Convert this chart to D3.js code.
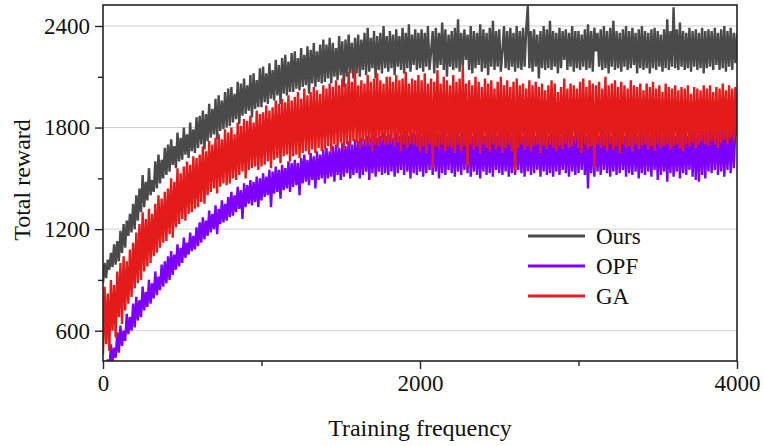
<!DOCTYPE html>
<html><head><meta charset="utf-8">
<script src="https://cdn.jsdelivr.net/npm/d3@7"></script>
<style>body{margin:0;background:#fff}svg{display:block}text{font-family:"Liberation Serif","Times New Roman",serif;fill:#111}</style>
</head><body><svg id="c" width="764" height="446"></svg>
<script>
const xStep = 10;
const seriesNames = ["Ours", "OPF", "GA"];
const seriesColors = ["#4a4a4a", "#7d00ff", "#e31b1b"];
const xTicksMajor = [0, 2000, 4000];
const xTicksMinor = [1000, 3000];
const yTicksMajor = [600, 1200, 1800, 2400];
const yTicksMinor = [900, 1500, 2100];
const xLabel = "Training frequency";
const yLabel = "Total reward";

const ours = [
880,1000,910,1020,960,1060,975,1110,990,1130,1010,1190,1060,1230,1090,1250,1160,1290,1180,1350,
1200,1400,1250,1440,1300,1520,1330,1480,1370,1560,1400,1490,1420,1600,1440,1640,1470,1610,1500,1680,
1520,1700,1540,1730,1580,1690,1560,1770,1600,1740,1610,1800,1640,1760,1620,1830,1660,1790,1650,1860,
1680,1870,1700,1900,1670,1880,1720,1940,1740,1910,1760,1970,1730,1990,1780,1960,1790,2010,1800,2030,
1810,2040,1830,2000,1850,2070,1820,2060,1870,2090,1880,2050,1900,2110,1860,2120,1910,2080,1920,2150,
1920,2160,1950,2120,1940,2180,1970,2140,1960,2200,1990,2170,1940,2210,2000,2230,1990,2190,2010,2240,
2010,2250,2030,2210,2020,2270,2040,2230,2050,2280,2000,2260,2060,2300,2040,2250,2070,2290,2060,2320,
2070,2290,2090,2330,2060,2300,2100,2270,2080,2340,2110,2310,2040,2320,2100,2350,2120,2300,2090,2330,
2120,2350,2100,2320,2140,2360,2110,2390,2130,2330,2150,2370,2090,2340,2140,2360,2120,2400,2150,2340,
2130,2370,2150,2350,2110,2380,2160,2340,2140,2390,2120,2360,2150,2410,2130,2350,2170,2380,2140,2360,
2150,2380,2130,2360,2160,2400,2140,2250,2370,2120,2390,2150,2360,2170,2420,2140,2380,2100,2350,2160,
2370,2140,2390,2150,2440,2130,2360,2160,2380,2200,2350,2140,2400,2120,2370,2150,2360,2170,2410,2130,
2380,2150,2360,2110,2390,2160,2430,2140,2370,2160,2380,2130,2250,2400,2150,2370,2140,2390,2160,2360,
2130,2400,2150,2370,2140,2390,2160,2380,2520,2150,2370,2130,2380,2160,2350,2090,2370,2150,2400,2140,
2380,2150,2430,2140,2370,2160,2360,2120,2390,2150,2370,2200,2380,2140,2360,2160,2400,2130,2370,2150,
2370,2140,2350,2160,2380,2140,2410,2150,2370,2130,2390,2250,2360,2160,2380,2140,2400,2150,2370,2120,
2390,2160,2430,2140,2370,2150,2360,2130,2380,2160,2400,2140,2370,2150,2390,2170,2360,2120,2380,2150,
2400,2140,2370,2150,2360,2120,2380,2150,2390,2140,2370,2160,2350,2130,2380,2150,2440,2140,2370,2160,
2510,2150,2380,2140,2420,2160,2370,2140,2360,2150,2390,2130,2370,2160,2380,2140,2360,2150,2390,2120,
2370,2150,2380,2160,2370,2140,2390,2170,2360,2140,2380,2150,2400,2130,2370,2160,2390,2140,2360,2180,
2360];

const opf = [
300,380,320,430,350,520,410,500,440,590,470,630,510,600,540,700,580,680,600,760,
620,800,660,780,680,860,720,830,740,900,760,880,790,950,810,920,840,990,860,1010,
880,1040,900,1070,930,1050,960,1110,980,1090,1000,1150,1030,1120,1050,1180,1070,1160,1080,1210,
1100,1240,1120,1270,1140,1250,1160,1310,1180,1290,1200,1340,1170,1320,1230,1370,1240,1350,1250,1390,
1270,1420,1280,1400,1300,1450,1320,1430,1260,1470,1330,1460,1350,1490,1340,1480,1360,1510,1330,1500,
1370,1530,1390,1510,1400,1550,1330,1540,1410,1570,1420,1550,1380,1580,1430,1560,1440,1600,1420,1590,
1450,1610,1460,1590,1400,1620,1470,1640,1480,1610,1460,1650,1490,1630,1440,1660,1490,1640,1500,1670,
1470,1680,1500,1660,1510,1690,1480,1700,1520,1680,1490,1710,1510,1690,1530,1720,1500,1700,1520,1730,
1530,1720,1500,1740,1520,1730,1540,1750,1490,1740,1530,1760,1510,1740,1540,1750,1520,1770,1530,1750,
1520,1760,1540,1740,1510,1770,1530,1750,1550,1760,1520,1780,1540,1750,1500,1770,1530,1760,1520,1780,
1540,1750,1510,1770,1530,1760,1550,1780,1520,1750,1540,1770,1500,1760,1530,1780,1520,1750,1550,1770,
1530,1760,1510,1780,1540,1750,1520,1770,1550,1760,1530,1780,1510,1750,1540,1770,1520,1760,1500,1780,
1540,1750,1520,1770,1530,1760,1510,1780,1550,1750,1530,1770,1520,1760,1540,1780,1510,1750,1530,1770,
1520,1760,1550,1780,1530,1750,1510,1770,1540,1760,1520,1780,1530,1750,1550,1770,1510,1760,1540,1780,
1520,1750,1530,1770,1510,1760,1540,1780,1520,1750,1550,1770,1530,1760,1510,1780,1540,1750,1520,1770,
1530,1760,1550,1780,1520,1750,1440,1770,1530,1760,1510,1780,1540,1750,1520,1770,1550,1760,1530,1780,
1510,1750,1540,1770,1520,1760,1530,1780,1550,1750,1510,1770,1530,1760,1520,1780,1540,1750,1500,1770,
1530,1760,1520,1780,1540,1750,1510,1770,1550,1760,1490,1780,1520,1750,1540,1770,1480,1760,1530,1780,
1510,1750,1540,1770,1500,1760,1530,1780,1520,1750,1550,1770,1510,1790,1490,1760,1480,1780,1520,1790,
1500,1770,1540,1800,1530,1780,1550,1810,1520,1790,1540,1800,1510,1780,1550,1820,1530,1800,1560,1810,
1800];

const ga = [
460,860,520,820,480,900,600,870,560,950,680,1000,640,1040,720,1010,760,1080,800,1120,
850,1180,880,1230,900,1300,950,1260,980,1320,1000,1290,1040,1350,1060,1400,1090,1380,1120,1420,
1130,1440,1170,1500,1150,1480,1210,1560,1230,1530,1260,1570,1250,1600,1290,1580,1300,1630,1320,1620,
1330,1640,1360,1690,1350,1660,1400,1720,1420,1700,1440,1740,1410,1760,1450,1730,1470,1790,1460,1770,
1470,1800,1500,1760,1490,1830,1520,1810,1540,1850,1500,1840,1550,1870,1560,1830,1570,1900,1550,1880,
1570,1890,1580,1930,1600,1900,1560,1920,1610,1960,1620,1940,1590,1970,1630,1950,1640,1990,1600,1960,
1630,1980,1640,2010,1620,1970,1650,2030,1660,1990,1640,2010,1670,2040,1650,2020,1680,2000,1660,2050,
1670,2030,1690,2060,1660,2040,1700,2080,1680,2050,1710,2090,1670,2060,1700,2130,1690,2070,1720,2140,
1710,2050,1680,2080,1720,2060,1690,2110,1710,2070,1660,2090,1700,2120,1690,2080,1720,2060,1700,2100,
1700,2100,1720,2070,1690,2110,1710,2080,1660,2090,1700,2130,1680,2060,1710,2090,1700,2080,1690,2110,
1660,2080,1690,2120,1650,2060,1700,2090,1560,2070,1690,2140,1670,2060,1700,2100,1660,2080,1690,2050,
1680,2110,1650,2070,1700,2090,1660,2160,1690,2060,1570,2080,1700,2050,1670,2100,1690,2070,1650,2040,
1700,2090,1680,2060,1660,2080,1700,2030,1670,2070,1690,2100,1650,2050,1680,2080,1700,2040,1660,2070,
1540,2090,1680,2050,1700,2060,1670,2030,1690,2080,1660,2050,1690,2070,1700,2040,1650,2060,1690,2020,
1670,2050,1700,2080,1680,2060,1660,2010,1690,2040,1670,2090,1700,2030,1680,2060,1690,2050,1720,2030,
1680,2070,1650,2090,1700,2040,1670,2080,1690,2060,1560,2050,1700,2070,1680,2030,1690,2100,1660,2050,
1700,2060,1670,2080,1690,2040,1650,2070,1700,2050,1680,2030,1690,2080,1660,2050,1700,2040,1670,2060,
1690,2020,1700,2060,1670,2040,1690,2070,1660,2030,1700,2050,1680,2010,1690,2060,1700,2040,1670,2030,
1690,2050,1700,2020,1680,2040,1660,2030,1700,2050,1690,2000,1710,2040,1680,2030,1700,2020,1720,2050,
1700,2030,1690,2050,1720,2010,1700,2040,1680,2030,1710,2060,1730,2020,1700,2050,1740,2030,1720,2040,
1750];

const seriesValues = [ours, opf, ga];

const svg = d3.select("#c");
const x = d3.scaleLinear().domain([0, 4000]).range([103, 737]);
const y = d3.scaleLinear().domain([421, 2524]).range([361, 5]);

svg.append("g").selectAll("line").data(yTicksMajor).join("line")
  .attr("x1", 103).attr("x2", 737)
  .attr("y1", d => y(d)).attr("y2", d => y(d))
  .attr("stroke", "#cfcfcf").attr("stroke-width", 1);

svg.append("defs").append("clipPath").attr("id", "clip")
  .append("rect").attr("x", 103).attr("y", 5).attr("width", 634).attr("height", 356);

const line = d3.line().x((d, i) => x(i * xStep)).y(d => y(d));
const plot = svg.append("g").attr("clip-path", "url(#clip)");
seriesValues.forEach((vals, k) => {
  plot.append("path").datum(vals)
    .attr("d", line).attr("fill", "none")
    .attr("stroke", seriesColors[k]).attr("stroke-width", 2.4)
    .attr("stroke-linejoin", "miter").attr("stroke-miterlimit", 2);
});

svg.append("rect").attr("x", 103).attr("y", 5).attr("width", 634).attr("height", 356)
  .attr("fill", "none").attr("stroke", "#222").attr("stroke-width", 1.6);

const xAxis = d3.axisBottom(x).tickValues(xTicksMajor).tickSize(8).tickPadding(6).tickFormat(d3.format("d"));
svg.append("g").attr("transform", "translate(0,361)").call(xAxis);
svg.append("g").attr("transform", "translate(0,361)")
  .call(d3.axisBottom(x).tickValues(xTicksMinor).tickSize(5).tickFormat(""));
const yAxis = d3.axisLeft(y).tickValues(yTicksMajor).tickSize(8).tickPadding(5).tickFormat(d3.format("d"));
svg.append("g").attr("transform", "translate(103,0)").call(yAxis);
svg.append("g").attr("transform", "translate(103,0)")
  .call(d3.axisLeft(y).tickValues(yTicksMinor).tickSize(5).tickFormat(""));
svg.selectAll(".domain").remove();
svg.selectAll(".tick line").attr("stroke", "#222").attr("stroke-width", 1.4);
svg.selectAll(".tick text").style("font-family", "'Liberation Serif', serif").style("font-size", "23px").attr("fill", "#111");

svg.append("text").attr("x", 420).attr("y", 436).attr("text-anchor", "middle")
  .style("font-size", "24px").text(xLabel);
svg.append("text").attr("transform", "translate(30,180) rotate(-90)").attr("text-anchor", "middle")
  .style("font-size", "24px").text(yLabel);

const lg = svg.append("g");
seriesNames.forEach((name, k) => {
  const ly = 236 + k * 30;
  lg.append("line").attr("x1", 528).attr("x2", 585).attr("y1", ly).attr("y2", ly)
    .attr("stroke", seriesColors[k]).attr("stroke-width", 3);
  lg.append("text").attr("x", 596).attr("y", ly + 8).style("font-size", "23px").text(name);
});
</script></body></html>
